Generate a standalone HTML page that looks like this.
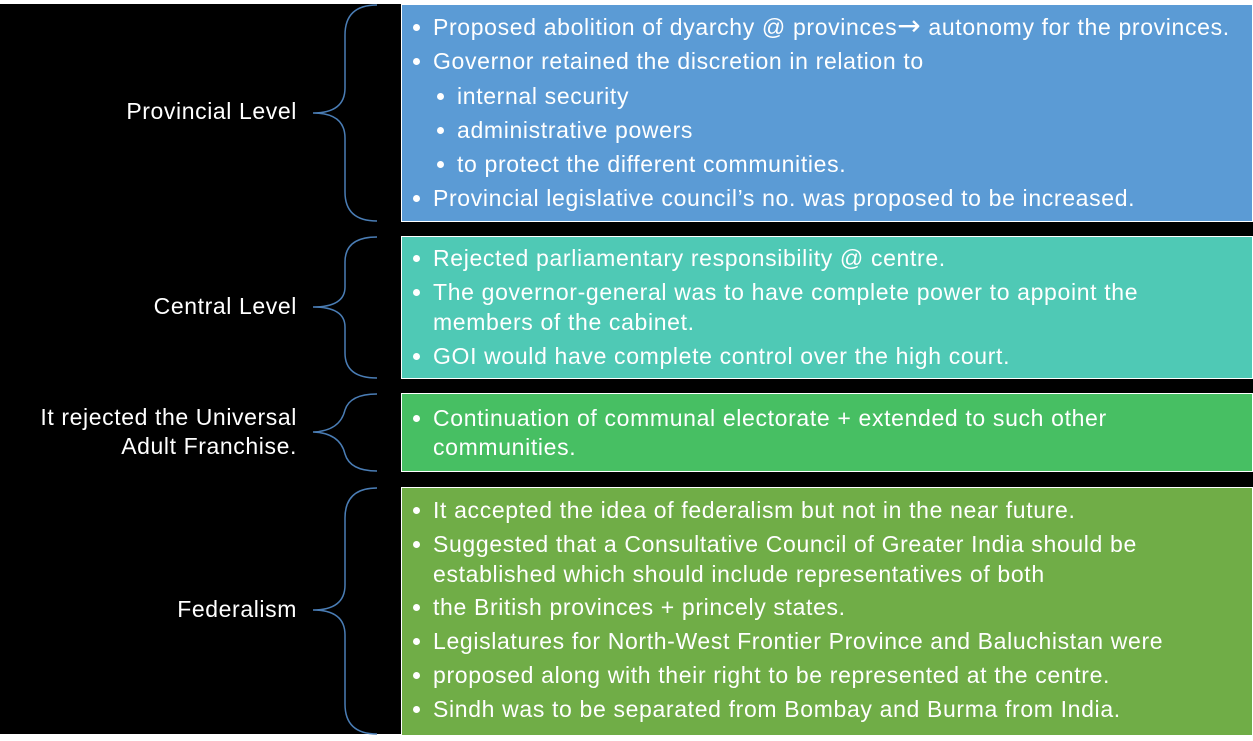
<!DOCTYPE html>
<html><head><meta charset="utf-8"><style>
body{margin:0;width:1253px;height:741px;background:#fff;position:relative;overflow:hidden;font-family:"Liberation Sans",sans-serif;}
#bg{position:absolute;left:0;top:4px;width:1253px;height:730px;background:#000;}
.box{position:absolute;left:401px;width:850px;border:1px solid #fff;}
.t{position:absolute;color:#fff;font-size:23px;letter-spacing:0.65px;line-height:30px;white-space:nowrap;}
.b::before{content:"";position:absolute;left:-20px;top:12px;width:7px;height:7px;border-radius:50%;background:#fff;}
.lab{position:absolute;right:956px;color:#fff;font-size:23px;letter-spacing:0.6px;line-height:29px;text-align:right;white-space:nowrap;}
</style></head><body>
<div id="bg"></div>
<div class="box" style="top:4px;height:216px;background:#5b9bd5"></div>
<div class="box" style="top:236px;height:141px;background:#4fc9b5"></div>
<div class="box" style="top:393px;height:77px;background:#47bf63"></div>
<div class="box" style="top:487px;height:247px;background:#70ad47"></div>
<svg style="position:absolute;left:0;top:0" width="1253" height="741" fill="none" stroke="#4a7db5" stroke-width="1.5">
<path d="M377 5 Q345 5 345 35 L345 88 Q345 113 313 113 Q345 113 345 138 L345 192 Q345 221 377 221"/>
<path d="M377 237 Q345 237 345 262 L345 287 Q345 307 313 307 Q345 307 345 327 L345 353 Q345 378 377 378"/>
<path d="M377 394 Q350 394 345 410 Q340 431 313 432 Q340 433 345 454 Q350 471 377 471"/>
<path d="M377 488 Q345 488 345 518 L345 585 Q345 610 313 610 Q345 610 345 635 L345 704 Q345 734 377 734"/>
</svg>
<div class="lab" style="top:97px">Provincial Level</div>
<div class="lab" style="top:292px">Central Level</div>
<div class="lab" style="top:403px">It rejected the Universal<br>Adult Franchise.</div>
<div class="lab" style="top:595px">Federalism</div>

<div class="t b" style="left:433px;top:12px">Proposed abolition of dyarchy @ provinces<span style="font-size:28px;font-family:'DejaVu Sans',sans-serif;line-height:20px">→</span> autonomy for the provinces.</div>
<div class="t b" style="left:433px;top:46px">Governor retained the discretion in relation to</div>
<div class="t b" style="left:457px;top:81px">internal security</div>
<div class="t b" style="left:457px;top:115px">administrative powers</div>
<div class="t b" style="left:457px;top:149px">to protect the different communities.</div>
<div class="t b" style="left:433px;top:183px">Provincial legislative council’s no. was proposed to be increased.</div>

<div class="t b" style="left:433px;top:243px">Rejected parliamentary responsibility @ centre.</div>
<div class="t b" style="left:433px;top:277px">The governor-general was to have complete power to appoint the</div>
<div class="t" style="left:433px;top:307px">members of the cabinet.</div>
<div class="t b" style="left:433px;top:341px">GOI would have complete control over the high court.</div>

<div class="t b" style="left:433px;top:403px">Continuation of communal electorate + extended to such other</div>
<div class="t" style="left:433px;top:432px">communities.</div>

<div class="t b" style="left:433px;top:495px">It accepted the idea of federalism but not in the near future.</div>
<div class="t b" style="left:433px;top:529px">Suggested that a Consultative Council of Greater India should be</div>
<div class="t" style="left:433px;top:559px">established which should include representatives of both</div>
<div class="t b" style="left:433px;top:592px">the British provinces + princely states.</div>
<div class="t b" style="left:433px;top:626px">Legislatures for North-West Frontier Province and Baluchistan were</div>
<div class="t b" style="left:433px;top:660px">proposed along with their right to be represented at the centre.</div>
<div class="t b" style="left:433px;top:694px">Sindh was to be separated from Bombay and Burma from India.</div>
</body></html>
